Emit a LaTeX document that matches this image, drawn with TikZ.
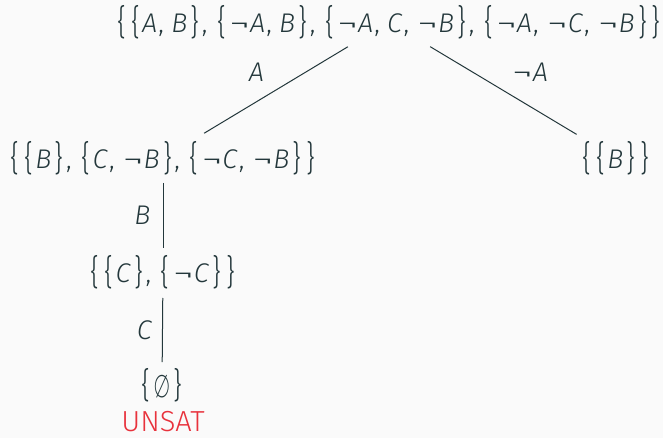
\documentclass[tikz,border=0pt]{standalone}
\usepackage{fontspec}
\usepackage{graphicx}
\setmainfont{Fira Sans}[UprightFont=* Light, ItalicFont=* Light Italic]
\definecolor{txt}{HTML}{23373B}
\definecolor{bg}{HTML}{FAFAFA}
\definecolor{alertred}{HTML}{E8323C}
\newcommand{\vA}{\textit{A}\kern1pt}
\newcommand{\vB}{\textit{B}\kern1pt}
\newcommand{\vC}{\textit{C}\kern1pt}
\newcommand{\cm}{,\kern7.3pt}
\newcommand{\lb}{\kern2.4pt\raisebox{-0.05em}{\scalebox{1}[1.3]{\{}}\kern2.4pt}
\newcommand{\rb}{\kern2.4pt\raisebox{-0.05em}{\scalebox{1}[1.3]{\}}}\kern2.4pt}
\newcommand{\lnt}{\kern1pt\scalebox{1.5}[1]{¬}\kern0.5pt}
\newcommand{\emp}{\kern1pt\raisebox{-0.04em}{\scalebox{0.7}[1.15]{∅}}\kern1pt}
\begin{document}
\begin{tikzpicture}[x=1pt,y=-1pt,
  every node/.style={text=txt,font=\fontsize{27}{32}\selectfont,inner sep=0pt},
  set/.style={anchor=center},
  lbl/.style={anchor=center},
  conn/.style={draw=txt,line width=1pt}]
\fill[bg] (0,0) rectangle (663,438);
\useasboundingbox (0,0) rectangle (663,438);
\node[set] (root) at (389,22) {\lb\lb\vA\cm\vB\rb\cm\lb\lnt\vA\cm\vB\rb\cm\lb\lnt\vA\cm\vC\cm\lnt\vB\rb\cm\lb\lnt\vA\cm\lnt\vC\cm\lnt\vB\rb\rb};
\node[set] (left) at (163,158) {\lb\lb\vB\rb\cm\lb\vC\cm\lnt\vB\rb\cm\lb\lnt\vC\cm\lnt\vB\rb\rb};
\node[set] (right) at (616,158) {\lb\lb\vB\rb\rb};
\node[set] (cc) at (163,272) {\lb\lb\vC\rb\cm\lb\lnt\vC\rb\rb};
\node[set] (empty) at (162,385) {\lb\emp\rb};
\node[anchor=center,text=alertred,font=\fontsize{29}{34}\selectfont] (unsat) at (163,422) {UNSAT};
\draw[conn,shorten <=48pt,shorten >=48pt] (root.center) -- (left.center);
\draw[conn,shorten <=48pt,shorten >=46pt] (root.center) -- (right.center);
\draw[conn,shorten <=25pt,shorten >=24pt] (left.center) -- (cc.center);
\draw[conn,shorten <=26pt,shorten >=23pt] (cc.center) -- (empty.center);
\node[lbl] (la) at (257,72) {\vA};
\node[lbl] (lna) at (530,72) {\lnt\vA};
\node[lbl] (lb) at (143,215) {\vB};
\node[lbl] (lc) at (145,330) {\vC};
\end{tikzpicture}
\end{document}
